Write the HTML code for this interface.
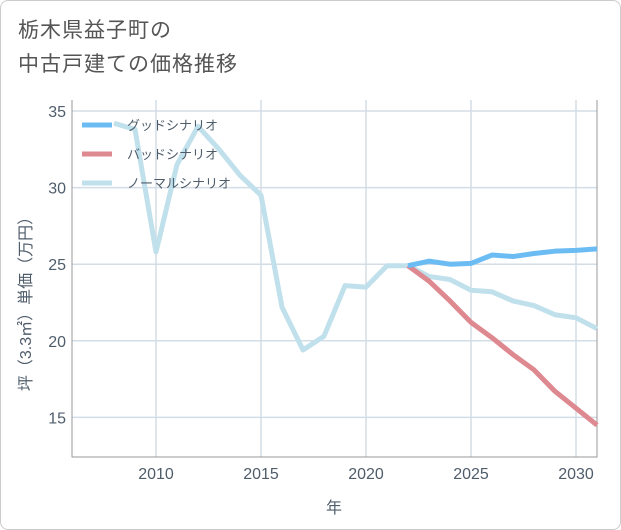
<!DOCTYPE html>
<html><head><meta charset="utf-8">
<style>
html,body{margin:0;padding:0;background:#fff;}
body{width:621px;height:530px;overflow:hidden;font-family:"Liberation Sans","Noto Sans CJK JP",sans-serif;}
#frame{position:absolute;left:0;top:0;width:619px;height:528px;border:1px solid #ccc;border-radius:8px;}
#title{position:absolute;left:18px;top:14px;font-size:21px;line-height:34px;color:#555;letter-spacing:1px;}
svg{position:absolute;left:0;top:0;}
</style></head>
<body>
<div id="frame"></div>
<div id="title">栃木県益子町の<br>中古戸建ての価格推移</div>
<svg id="chart" width="621" height="530"></svg>
<script>
const years=[2008,2009,2010,2011,2012,2013,2014,2015,2016,2017,2018,2019,2020,2021,2022,2023,2024,2025,2026,2027,2028,2029,2030,2031];
const normalVals=[34.2,33.8,25.8,31.5,34.0,32.5,30.8,29.5,22.2,19.4,20.3,23.6,23.5,24.9,24.9,24.2,24.0,23.3,23.2,22.6,22.3,21.7,21.5,20.8];
const goodYears=[2022,2023,2024,2025,2026,2027,2028,2029,2030,2031];
const goodVals=[24.9,25.2,25.0,25.05,25.6,25.5,25.7,25.85,25.9,26.0];
const badVals=[24.9,23.9,22.6,21.2,20.2,19.1,18.1,16.7,15.6,14.5];
const xTicks=[2010,2015,2020,2025,2030];
const yTicks=[15,20,25,30,35];
const seriesNames=["グッドシナリオ","バッドシナリオ","ノーマルシナリオ"];
const L=72,R=597,T=100,B=457;
const x=v=>L+(v-2006)*(R-L)/25;
const y=v=>111+(35-v)*76.6/5;
const svg=document.getElementById('chart');
const NS='http://www.w3.org/2000/svg';
const TXT='#4f5d6b';
function mk(tag,attrs){const e=document.createElementNS(NS,tag);for(const k in attrs)e.setAttribute(k,attrs[k]);svg.appendChild(e);return e;}
for(const t of xTicks){
 const g=mk('line',{x1:x(t),x2:x(t),y1:T,y2:B,stroke:'#d3dde6','stroke-width':1.5});
 
 
 const tx=mk('text',{x:x(t),y:B+22,'text-anchor':'middle','font-size':16,fill:TXT});
 tx.textContent=t;
 
 
}
for(const t of yTicks){
 const g=mk('line',{x1:L,x2:R,y1:y(t),y2:y(t),stroke:'#d3dde6','stroke-width':1.5});
 
 
 const tx=mk('text',{x:L-6,y:y(t)+6,'text-anchor':'end','font-size':16,fill:TXT});
 tx.textContent=t;
 
 
}
const ax=mk('path',{d:`M${L},${T}V${B}H${R}V${T}`,fill:'none',stroke:'#999','stroke-width':1});


function line(xs,vs,color,name){
 const p=mk('polyline',{points:xs.map((yr,i)=>x(yr)+','+y(vs[i])).join(' '),fill:'none',stroke:color,'stroke-width':5,'stroke-linejoin':'round'});
 
 
}
line(years,normalVals,'#c0e0ec','normal-scenario-line');
line(goodYears,badVals,'#de8890','bad-scenario-line');
line(goodYears,goodVals,'#6cbcf4','good-scenario-line');
const colors=['#6cbcf4','#de8890','#c0e0ec'];
seriesNames.forEach((n,i)=>{
 const yy=125+i*29;
 const s=mk('line',{x1:82,x2:112,y1:yy,y2:yy,stroke:colors[i],'stroke-width':5});
 
 
 const t=mk('text',{x:127,y:yy+5,'font-size':13,fill:TXT});
 t.textContent=n;
 
 
});
const xt=mk('text',{x:334,y:513,'text-anchor':'middle','font-size':16,fill:TXT});
xt.textContent='年';


const yt=mk('text',{x:0,y:0,'text-anchor':'middle','font-size':16,fill:TXT,transform:'translate(31,300) rotate(-90)'});
yt.textContent='坪（3.3㎡）単価（万円）';


</script>
</body></html>
